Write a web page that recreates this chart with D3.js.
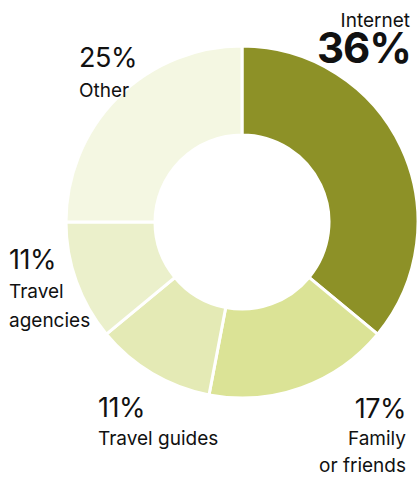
<!DOCTYPE html>
<html><head><meta charset="utf-8">
<script src="https://cdn.jsdelivr.net/npm/d3@7"></script>
<style>body{margin:0;background:#fff}svg{display:block}text{font-family:Inter,"Liberation Sans",Arial,sans-serif;fill:#111}</style>
</head><body>
<svg id="c" width="418" height="481"></svg>
<script>
const categories = ["Internet","Family or friends","Travel guides","Travel agencies","Other"];
const values = [36,17,11,11,25];
const colors = ["#8d9127","#dbe396","#e4eab5","#ebf0cb","#f4f7e2"];

const svg = d3.select("#c");
const cx = 242, cy = 222, R = 176, r = 87;
const pie = d3.pie().sort(null).value(d=>d)(values);
const arc = d3.arc().innerRadius(r).outerRadius(R);
const g = svg.append("g").attr("transform",`translate(${cx},${cy})`);
g.selectAll("path").data(pie).join("path")
  .attr("d",arc).attr("fill",(d,i)=>colors[i])
  .attr("stroke","#fff").attr("stroke-width",3);

function lbl(x,y,txt,size,anchor,weight,ls){
  svg.append("text").attr("x",x).attr("y",y).attr("text-anchor",anchor)
    .attr("font-size",size).attr("font-weight",weight||400)
    .attr("letter-spacing",ls||0).text(txt);
}
// Internet
lbl(410,27,"Internet",19,"end");
lbl(411,63,values[0]+"%",42,"end",700,-1);
// Other
lbl(79,67,values[4]+"%",27,"start",400,-0.5);
lbl(79,97,"Other",19,"start");
// Travel agencies
lbl(9,269,values[3]+"%",27,"start",400,-0.5);
lbl(9,298,"Travel",19,"start");
lbl(9,327,"agencies",19,"start");
// Travel guides
lbl(98,417,values[2]+"%",27,"start",400,-0.5);
lbl(98,445,"Travel guides",19,"start");
// Family
lbl(406,418,values[1]+"%",27,"end",400,-0.5);
lbl(406,445,"Family",19,"end");
lbl(406,472,"or friends",19,"end");
</script>
</body></html>
